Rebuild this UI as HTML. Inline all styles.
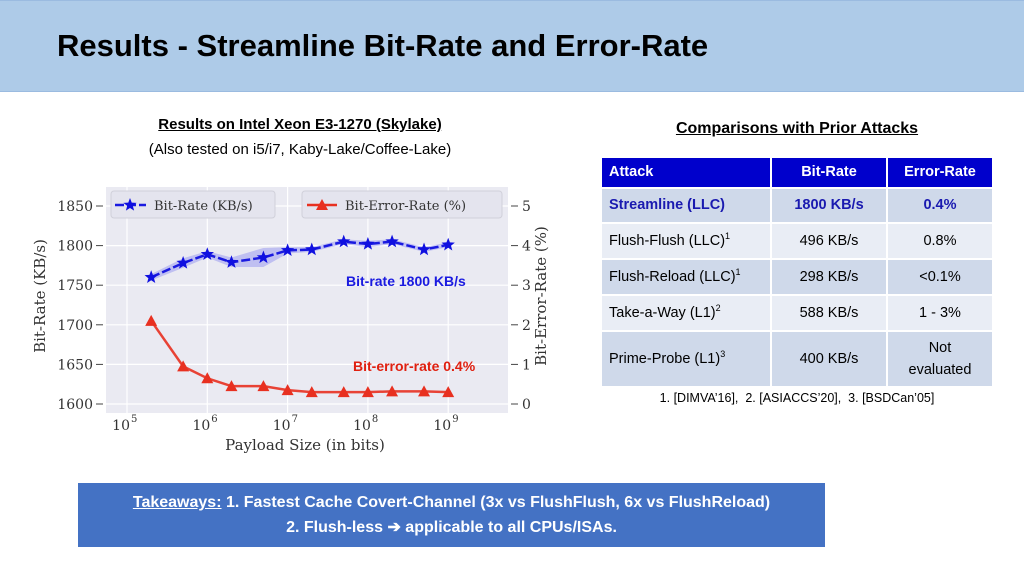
<!DOCTYPE html>
<html><head><meta charset="utf-8"><style>
body{margin:0;width:1024px;height:576px;position:relative;background:#fff;font-family:"Liberation Sans",sans-serif;overflow:hidden}
.abs{position:absolute}
table{border-collapse:collapse;font-family:"Liberation Sans",sans-serif;font-size:14.5px;table-layout:fixed}
td{border:2px solid #fff;padding:0 7px;line-height:17px;vertical-align:middle}
.sp{position:relative;top:-6px;font-size:9px;line-height:0}
</style></head><body>
<div class="abs" style="left:0;top:0;width:1024px;height:90px;background:#aecbe8;border-top:1px solid #9bbbe0;border-bottom:1px solid #9bbbe0"></div>
<div class="abs" style="left:57px;top:28px;font-size:31px;font-weight:bold;color:#000">Results - Streamline Bit-Rate and Error-Rate</div>
<div class="abs" style="left:60px;top:116px;width:480px;text-align:center;font-size:15px;font-weight:bold;text-decoration:underline">Results on Intel Xeon E3-1270 (Skylake)</div>
<div class="abs" style="left:60px;top:141px;width:480px;text-align:center;font-size:15px">(Also tested on i5/i7, Kaby-Lake/Coffee-Lake)</div>
<div class="abs" style="left:600px;top:120px;width:394px;text-align:center;font-size:16px;font-weight:bold;text-decoration:underline">Comparisons with Prior Attacks</div>

<svg class="abs" style="left:0;top:0" width="1024" height="576">
<g id="chart"></g>
</svg>

<table class="abs" style="left:600px;top:156px;width:394px">
<colgroup><col style="width:170px"><col style="width:116px"><col></colgroup>
<tr style="background:#0000cc;color:#fff;font-weight:bold;height:31px"><td>Attack</td><td style="text-align:center">Bit-Rate</td><td style="text-align:center">Error-Rate</td></tr>
<tr style="background:#cfd9ea;color:#1a1ab0;font-weight:bold;height:35px"><td>Streamline (LLC)</td><td style="text-align:center">1800 KB/s</td><td style="text-align:center">0.4%</td></tr>
<tr style="background:#e9edf5;height:36px"><td>Flush-Flush (LLC)<span class="sp">1</span></td><td style="text-align:center">496 KB/s</td><td style="text-align:center">0.8%</td></tr>
<tr style="background:#cfd9ea;height:36px"><td>Flush-Reload (LLC)<span class="sp">1</span></td><td style="text-align:center">298 KB/s</td><td style="text-align:center">&lt;0.1%</td></tr>
<tr style="background:#e9edf5;height:36px"><td>Take-a-Way (L1)<span class="sp">2</span></td><td style="text-align:center">588 KB/s</td><td style="text-align:center">1 - 3%</td></tr>
<tr style="background:#cfd9ea;height:56px"><td>Prime-Probe (L1)<span class="sp">3</span></td><td style="text-align:center">400 KB/s</td><td style="text-align:center;line-height:22px">Not<br>evaluated</td></tr>
</table>
<div class="abs" style="left:600px;top:391px;width:394px;text-align:center;font-size:12.5px">1. [DIMVA’16],&nbsp; 2. [ASIACCS’20],&nbsp; 3. [BSDCan’05]</div>

<div class="abs" style="left:78px;top:483px;width:747px;height:64px;background:#4472c4;color:#fff;font-weight:bold;font-size:16px;text-align:center;line-height:25px;padding-top:7px;box-sizing:border-box">
<span style="text-decoration:underline">Takeaways:</span> 1. Fastest Cache Covert-Channel (3x vs FlushFlush, 6x vs FlushReload)<br>2. Flush-less ➔ applicable to all CPUs/ISAs.</div>

<script>
const payloadSizes=[2e5,5e5,1e6,2e6,5e6,1e7,2e7,5e7,1e8,2e8,5e8,1e9];
const bitRate=[1760,1778,1789,1779,1785,1794,1795,1805,1802,1805,1795,1801];
const bitRateBand=[4,6,4,6,12,4,3,3,4,3,3,3];
const errorRate=[2.1,0.95,0.65,0.45,0.45,0.35,0.3,0.3,0.3,0.32,0.32,0.3];
const leftTicks=[1600,1650,1700,1750,1800,1850];
const rightTicks=[0,1,2,3,4,5];
const xTickExps=[5,6,7,8,9];
const NS="http://www.w3.org/2000/svg";
const g=document.getElementById('chart');
const L=106,R=508,T=187,B=413;
const xs=v=>127+(Math.log10(v)-5)*80.3;
const yl=v=>404-(v-1600)*(198/250);
const yr=v=>404-v*39.6;
function el(t,a,txt){const e=document.createElementNS(NS,t);for(const k in a)e.setAttribute(k,a[k]);if(txt!=null)e.textContent=txt;g.appendChild(e);return e;}
const bg=el('rect',{x:L,y:T,width:R-L,height:B-T,fill:'#eaeaf2'});


leftTicks.forEach(v=>{const y=yl(v);
 const gl=el('line',{x1:L,x2:R,y1:y,y2:y,stroke:'#fff','stroke-width':1.2});
 
 
 el('line',{x1:L-10,x2:L-3,y1:y,y2:y,stroke:'#444'});
 const t=el('text',{x:L-13,y:y+5,'text-anchor':'end','font-family':'DejaVu Serif, Liberation Serif, serif','font-size':14,fill:'#333'},v);
 
 });
rightTicks.forEach(v=>{const y=yr(v);
 el('line',{x1:R+3,x2:R+10,y1:y,y2:y,stroke:'#444'});
 const t=el('text',{x:R+14,y:y+5,'font-family':'DejaVu Serif, Liberation Serif, serif','font-size':14,fill:'#333'},v);
 
 });
xTickExps.forEach(e=>{const x=xs(Math.pow(10,e));
 const gl=el('line',{x1:x,x2:x,y1:T,y2:B,stroke:'#fff','stroke-width':1.2});
 
 
 const t=el('text',{x:x+3,y:430,'text-anchor':'end','font-family':'DejaVu Serif, Liberation Serif, serif','font-size':14,fill:'#333'},'10');
 
 
 el('text',{x:x+4,y:422,'font-family':'DejaVu Serif, serif','font-size':10,fill:'#333'},e);});
let band='M';payloadSizes.forEach((p,i)=>band+=(i?'L':'')+xs(p)+','+yl(bitRate[i]+bitRateBand[i]));
for(let i=payloadSizes.length-1;i>=0;i--)band+='L'+xs(payloadSizes[i])+','+yl(bitRate[i]-bitRateBand[i]);
const bd=el('path',{d:band+'Z',fill:'#7070f0','fill-opacity':0.35});


const bl=el('polyline',{points:payloadSizes.map((p,i)=>xs(p)+','+yl(bitRate[i])).join(' '),fill:'none',stroke:'#1a1ae0','stroke-width':2.5,'stroke-dasharray':'9,3'});


const el2=el('polyline',{points:payloadSizes.map((p,i)=>xs(p)+','+yr(errorRate[i])).join(' '),fill:'none',stroke:'#e83020','stroke-width':2.5,'stroke-opacity':0.9});


function star(cx,cy,r){let s='';for(let k=0;k<10;k++){const a=-Math.PI/2+k*Math.PI/5,rr=k%2?r*0.42:r;s+=(cx+rr*Math.cos(a))+','+(cy+rr*Math.sin(a))+' ';}return s;}
payloadSizes.forEach((p,i)=>{
 const s=el('polygon',{points:star(xs(p),yl(bitRate[i]),7),fill:'#1010e0'});
 
 
 const x=xs(p),y=yr(errorRate[i]);
 const t=el('polygon',{points:`${x},${y-6} ${x+6},${y+5} ${x-6},${y+5}`,fill:'#e83020'});
 
 });
const lg1=el('rect',{x:111,y:191,width:164,height:27,rx:3,fill:'#e4e4ee',stroke:'#d0d0da'});


el('line',{x1:115,x2:146,y1:205,y2:205,stroke:'#1a1ae0','stroke-width':2.5,'stroke-dasharray':'9,3'});
el('polygon',{points:star(130,205,7),fill:'#1010e0'});
el('text',{x:154,y:210,'font-family':'DejaVu Serif, serif','font-size':13,fill:'#333'},'Bit-Rate (KB/s)');
const lg2=el('rect',{x:302,y:191,width:200,height:27,rx:3,fill:'#e4e4ee',stroke:'#d0d0da'});


el('line',{x1:307,x2:337,y1:205,y2:205,stroke:'#e83020','stroke-width':2.5});
el('polygon',{points:'322,199 328,210 316,210',fill:'#e83020'});
el('text',{x:345,y:210,'font-family':'DejaVu Serif, serif','font-size':13,fill:'#333'},'Bit-Error-Rate (%)');
const a1=el('text',{x:346,y:286,'font-family':'Liberation Sans, sans-serif','font-size':14,'font-weight':'bold',fill:'#1a1ae0'},'Bit-rate 1800 KB/s');


const a2=el('text',{x:353,y:371,'font-family':'Liberation Sans, sans-serif','font-size':14,'font-weight':'bold',fill:'#e02010'},'Bit-error-rate 0.4%');


const xt=el('text',{x:305,y:450,'text-anchor':'middle','font-family':'DejaVu Serif, serif','font-size':15,fill:'#333'},'Payload Size (in bits)');


const yt=el('text',{x:0,y:0,transform:'translate(45,296) rotate(-90)','text-anchor':'middle','font-family':'DejaVu Serif, serif','font-size':15,fill:'#333'},'Bit-Rate (KB/s)');


const yt2=el('text',{x:0,y:0,transform:'translate(546,296) rotate(-90)','text-anchor':'middle','font-family':'DejaVu Serif, serif','font-size':15,fill:'#333'},'Bit-Error-Rate (%)');


</script>
</body></html>
